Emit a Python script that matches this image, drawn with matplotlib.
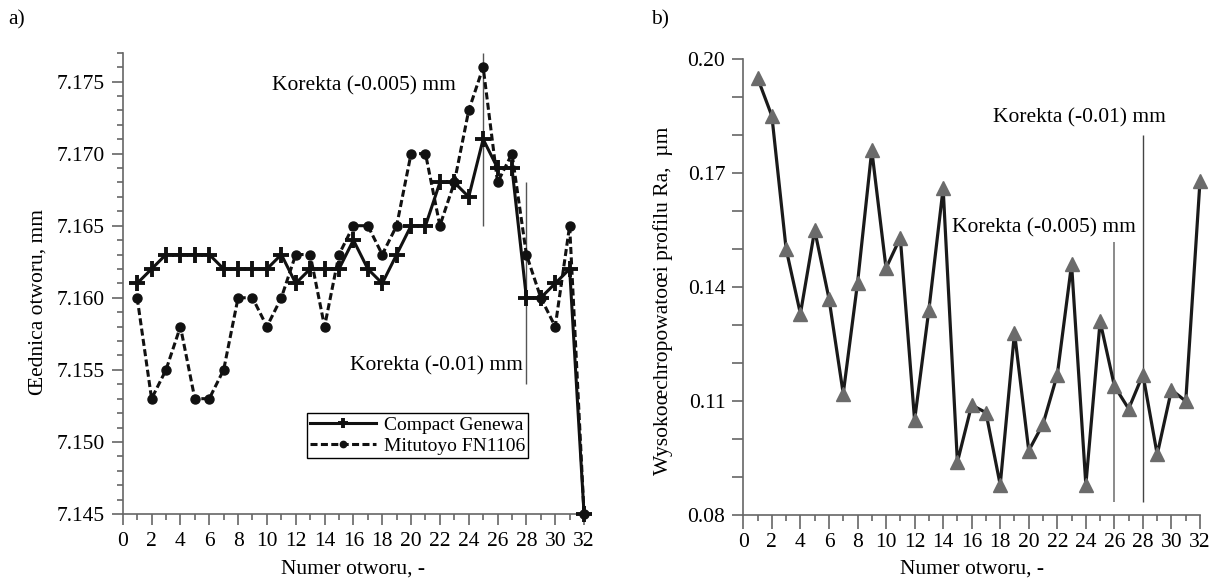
import matplotlib.pyplot as plt
from matplotlib.ticker import MultipleLocator, FormatStrFormatter

plt.rcParams['font.family'] = ['Liberation Serif', 'DejaVu Serif']
plt.rcParams['font.size'] = 15.5

# numer otworu
holes = list(range(1, 33))

# a) srednica otworu, mm
compact = [7.161, 7.162, 7.163, 7.163, 7.163, 7.163, 7.162, 7.162, 7.162, 7.162,
           7.163, 7.161, 7.162, 7.162, 7.162, 7.164, 7.162, 7.161, 7.163, 7.165,
           7.165, 7.168, 7.168, 7.167, 7.171, 7.169, 7.169, 7.160, 7.160, 7.161,
           7.162, 7.145]
mitutoyo = [7.160, 7.153, 7.155, 7.158, 7.153, 7.153, 7.155, 7.160, 7.160, 7.158,
            7.160, 7.163, 7.163, 7.158, 7.163, 7.165, 7.165, 7.163, 7.165, 7.170,
            7.170, 7.165, 7.168, 7.173, 7.176, 7.168, 7.170, 7.163, 7.160, 7.158,
            7.165, 7.145]

# b) chropowatosc Ra, um
ra = [0.195, 0.185, 0.150, 0.133, 0.155, 0.137, 0.112, 0.141, 0.176, 0.145,
      0.153, 0.105, 0.134, 0.166, 0.094, 0.109, 0.107, 0.088, 0.128, 0.097,
      0.104, 0.117, 0.146, 0.088, 0.131, 0.114, 0.108, 0.117, 0.096, 0.113,
      0.110, 0.168]
ra_ticks = [0.08, 0.11, 0.14, 0.17, 0.20]

axis_col = '#666666'

fig = plt.figure(figsize=(12.13, 5.8), dpi=100)
ax1 = fig.add_axes([0.1012, 0.1138, 0.3803, 0.7953])
ax2 = fig.add_axes([0.6128, 0.1116, 0.3765, 0.7867])


def style_axes(ax):
    for s in ['top', 'right']:
        ax.spines[s].set_visible(False)
    for s in ['left', 'bottom']:
        ax.spines[s].set_color(axis_col)
        ax.spines[s].set_linewidth(1.2)
    ax.tick_params(which='both', direction='out', color=axis_col, width=1.2)
    ax.tick_params(which='major', length=8, pad=5)
    ax.tick_params(which='minor', length=4)
    ax.set_xlim(0, 32)
    ax.xaxis.set_major_locator(MultipleLocator(2))
    ax.xaxis.set_minor_locator(MultipleLocator(1))


# ---- a) ----
style_axes(ax1)
ax1.plot(holes, compact, color='#111111', lw=2.2, marker='+', ms=11, mew=2.8,
         label='Compact Genewa', clip_on=False, zorder=3)
ax1.plot(holes, mitutoyo, color='#111111', lw=2.2, dashes=(2.3, 1.1), marker='o',
         ms=6.5, label='Mitutoyo FN1106', clip_on=False, zorder=3)
ax1.set_ylim(7.145, 7.177)
ax1.yaxis.set_major_locator(MultipleLocator(0.005))
ax1.yaxis.set_minor_locator(MultipleLocator(0.001))
ax1.yaxis.set_major_formatter(FormatStrFormatter('%.3f'))
ax1.set_xlabel('Numer otworu, -', labelpad=6)
ax1.set_ylabel('Œednica otworu, mm')
ax1.yaxis.set_label_coords(-0.164, 0.46)

ax1.vlines(25, 7.165, 7.177, color='#555555', lw=1)
ax1.vlines(28, 7.154, 7.168, color='#555555', lw=1)
ax1.text(10.33, 7.1747, 'Korekta (-0.005) mm', ha='left', va='center')
ax1.text(15.75, 7.1553, 'Korekta (-0.01) mm', ha='left', va='center')

leg = ax1.legend(loc='lower right', bbox_to_anchor=(0.878, 0.121), fancybox=False,
                 edgecolor='black', framealpha=1, handlelength=3.4, numpoints=1,
                 borderpad=0.15, labelspacing=0.2, handletextpad=0.4,
                 borderaxespad=0, markerscale=0.7, fontsize=14)
leg.get_frame().set_linewidth(1)

# ---- b) ----
style_axes(ax2)
ax2.tick_params(axis='y', which='minor', length=8)
ax2.tick_params(axis='x', which='major', length=10, pad=3)
ax2.plot(holes, ra, color='#1a1a1a', lw=2.3, marker='^', ms=9.5,
         mfc='#6b6b6b', mec='#6b6b6b', clip_on=False, zorder=3)
ax2.set_ylim(0.08, 0.20)
ax2.set_yticks(ra_ticks)
ax2.yaxis.set_minor_locator(MultipleLocator(0.01))
ax2.yaxis.set_major_formatter(FormatStrFormatter('%.2f'))
ax2.set_xlabel('Numer otworu, -', labelpad=5)
ax2.set_ylabel('Wysokoœchropowatoœi profilu Ra,  µm')
ax2.yaxis.set_label_coords(-0.154, 0.47)

ax2.vlines(26, 0.0834, 0.152, color='#777777', lw=1.2)
ax2.vlines(28, 0.0834, 0.180, color='#444444', lw=1)
ax2.text(14.6, 0.1556, 'Korekta (-0.005) mm', ha='left', va='center')
ax2.text(17.5, 0.1846, 'Korekta (-0.01) mm', ha='left', va='center')

fig.text(8 / 1213, 1 - 20 / 580, 'a)', ha='left', va='center')
fig.text(651 / 1213, 1 - 20 / 580, 'b)', ha='left', va='center')

fig.savefig('out.png', dpi=100)
